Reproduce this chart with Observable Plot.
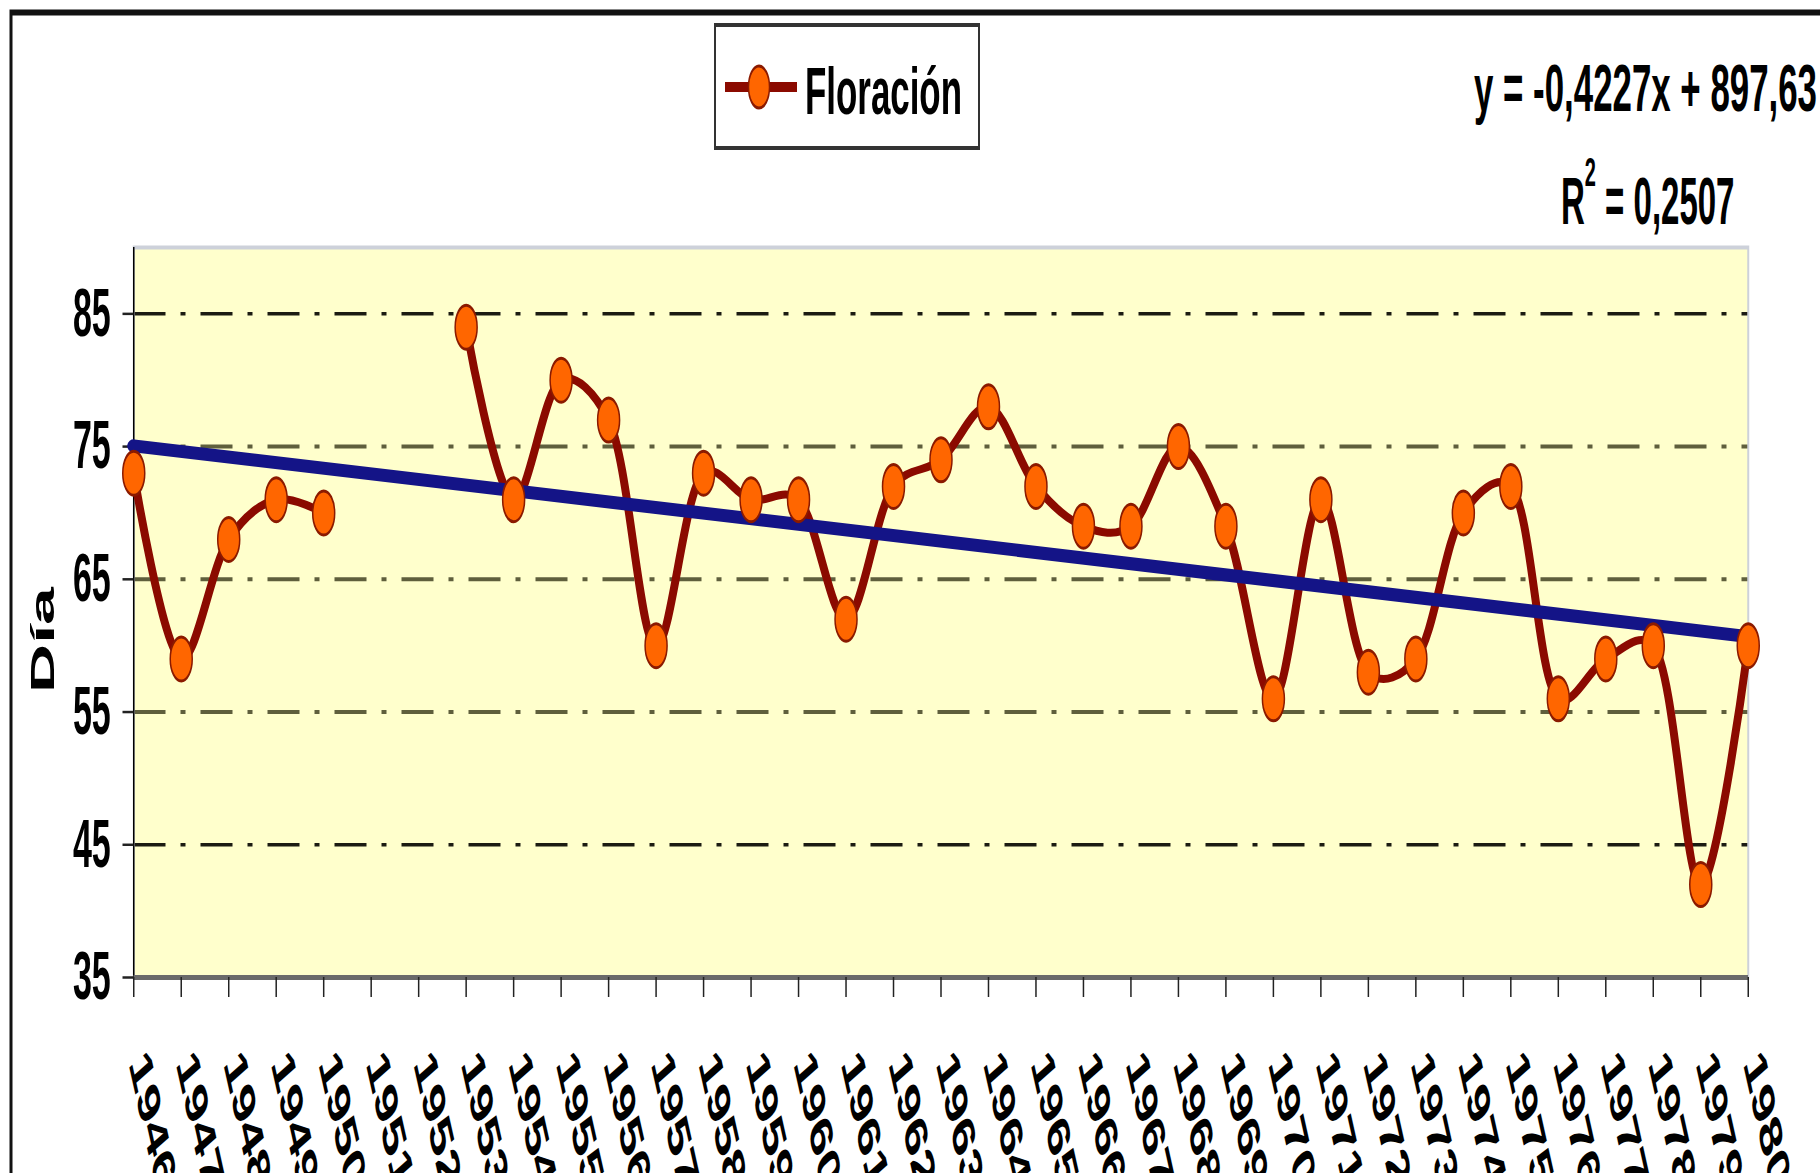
<!DOCTYPE html>
<html>
<head>
<meta charset="utf-8">
<script src="https://cdn.jsdelivr.net/npm/d3@7"></script>
<script src="https://cdn.jsdelivr.net/npm/@observablehq/plot@0.6"></script>
<style>
html, body { margin: 0; padding: 0; background: #ffffff; }
#chart { width: 1820px; height: 1173px; overflow: hidden; }
</style>
</head>
<body>
<div id="chart"></div>
<script>
// ---- data ----
const years = [1946, 1947, 1948, 1949, 1950, 1951, 1952, 1953, 1954, 1955,
               1956, 1957, 1958, 1959, 1960, 1961, 1962, 1963, 1964, 1965,
               1966, 1967, 1968, 1969, 1970, 1971, 1972, 1973, 1974, 1975,
               1976, 1977, 1978, 1979, 1980];
const floracion = [73, 59, 68, 71, 70, null, null, 84, 71, 80,
                   77, 60, 73, 71, 71, 62, 72, 74, 78, 72,
                   69, 69, 75, 69, 56, 71, 58, 59, 70, 72,
                   56, 59, 60, 42, 60];
const yTicks = [35, 45, 55, 65, 75, 85];
const gridDark = [45, 85];
const gridOlive = [55, 65, 75];
const trendSlope = -0.4227;
const trendIntercept = 897.63;
const trendYears = [1946, 1980];
const seriesName = "Floración";
const yLabel = "Día";
const eqText = "y = -0,4227x + 897,63";
const r2Value = "0,2507";

// ---- build tables ----
const table = years.map((year, i) => ({year, value: floracion[i]}));
const points = table.filter(d => d.value != null);
const trend = trendYears.map(year => ({year, value: trendSlope * year + trendIntercept}));

// the picture is horizontally compressed: draw at double width, then squeeze
const SX = 2;
const W = 1820 * SX, H = 1173;
const FONT = "'Liberation Sans', Arimo, Arial, sans-serif";
const dash = "64,30,10,30";

const plot = Plot.plot({
  width: W,
  height: H,
  marginLeft: 133.5 * SX,
  marginRight: (1820 - 1748) * SX,
  marginTop: 247,
  marginBottom: 1173 - 977,
  style: {background: "#ffffff", fontFamily: FONT, fontWeight: "bold", color: "#000"},
  x: {domain: [1946, 1980]},
  y: {domain: [35, 90]},
  marks: [
    Plot.frame({fill: "#FFFFCC", stroke: null}),
    Plot.ruleY(gridOlive, {stroke: "#5f5f3c", strokeWidth: 4, strokeDasharray: dash}),
    Plot.ruleY(gridDark, {stroke: "#1c1c12", strokeWidth: 3.5, strokeDasharray: dash}),
    Plot.frame({stroke: "#cdd1da", strokeWidth: 4, fill: "none"}),
    Plot.ruleX([1946], {stroke: "#000", strokeWidth: 3}),
    Plot.ruleY([35], {stroke: "#6a6a6a", strokeWidth: 5}),
    Plot.axisY({ticks: yTicks, tickFormat: d => String(d), tickSize: 22, tickPadding: 24,
                stroke: "#222", strokeWidth: 2.5, fill: "#000", fontSize: 68, fontWeight: "bold", label: null}),
    // tick marks only
    Plot.axisX({ticks: years, tickFormat: () => "", tickSize: 20, tickPadding: 58,
                stroke: "#222", strokeWidth: 3, label: null}),
    // rotated tick labels, nudged right of their ticks
    Plot.axisX({ticks: years, tickFormat: d => String(d), tickSize: 0, tickPadding: 78, tickRotate: 66, dx: 8,
                stroke: "none", fill: "#000", fontSize: 64, fontWeight: "bold", label: null}),
    Plot.line(table, {x: "year", y: "value", stroke: "#8B0A00", strokeWidth: 8, curve: "catmull-rom"}),
    Plot.line(trend, {x: "year", y: "value", stroke: "#141487", strokeWidth: 13}),
    Plot.dot(points, {x: "year", y: "value", r: 22, fill: "#FF6600", stroke: "#8B1A00", strokeWidth: 3})
  ]
});

// squeeze horizontally
plot.setAttribute("width", 1820);
plot.setAttribute("height", 1173);
plot.setAttribute("preserveAspectRatio", "none");
plot.style.width = "1820px";
plot.style.height = "1173px";
plot.style.maxWidth = "none";

const svg = d3.select(plot);
svg.selectAll('g[aria-label="line"] path').attr("vector-effect", "non-scaling-stroke");

const g = svg.append("g")
  .attr("font-family", FONT).attr("font-weight", "bold").attr("fill", "#000")
  .attr("text-anchor", "start");

// outer chart border (top and left visible)
g.append("path")
  .attr("d", `M${11 * SX},${H + 10} V12.5 H${W + 10}`)
  .attr("fill", "none").attr("stroke", "#111").attr("stroke-width", 6);

// legend
g.append("rect")
  .attr("x", 715 * SX).attr("y", 25).attr("width", (979 - 715) * SX).attr("height", 123)
  .attr("fill", "#fff").attr("stroke", "#333").attr("stroke-width", 4);
g.append("line")
  .attr("x1", 725 * SX).attr("x2", 797 * SX).attr("y1", 87).attr("y2", 87)
  .attr("stroke", "#8B0A00").attr("stroke-width", 10);
g.append("circle")
  .attr("cx", 759 * SX).attr("cy", 87).attr("r", 21)
  .attr("fill", "#FF6600").attr("stroke", "#8B1A00").attr("stroke-width", 3);
g.append("text")
  .attr("x", 805 * SX).attr("y", 114).attr("font-size", 67)
  .attr("textLength", (962 - 805) * SX).attr("lengthAdjust", "spacingAndGlyphs")
  .text(seriesName);

// regression equation
g.append("text")
  .attr("x", 1474 * SX).attr("y", 111).attr("font-size", 66)
  .attr("textLength", (1817 - 1474) * SX).attr("lengthAdjust", "spacingAndGlyphs")
  .text(eqText);
const r2 = g.append("text").attr("x", 1561 * SX).attr("y", 224).attr("font-size", 66);
r2.append("tspan").text("R");
r2.append("tspan").attr("font-size", 40).attr("dy", -38).text("2");
r2.append("tspan").attr("dy", 38).text(" = " + r2Value);

// y axis title
g.append("text")
  .attr("transform", `translate(${54 * SX},640) rotate(-90)`)
  .attr("text-anchor", "middle").attr("font-size", 68).text(yLabel);

document.getElementById("chart").appendChild(plot);
</script>
</body>
</html>
